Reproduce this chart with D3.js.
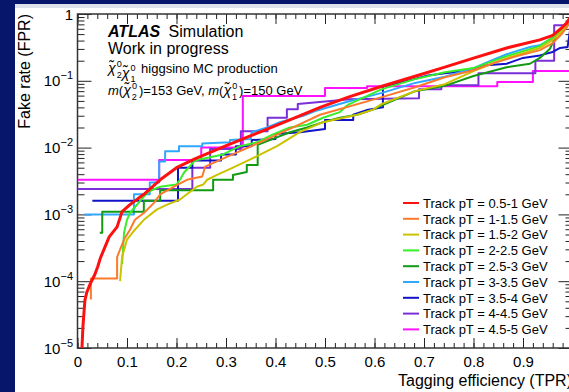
<!DOCTYPE html>
<html>
<head>
<meta charset="utf-8">
<script src="https://cdn.jsdelivr.net/npm/d3@7"></script>
<style>
body { margin: 0; background: #fff; }
svg { display: block; font-family: "Liberation Sans", Arial, Helvetica, sans-serif; }
</style>
</head>
<body>
<div id="chart"></div>
<script>

// ROC curves, [tagging efficiency (TPR), fake rate (FPR)]
var roc_05_1 = [[0.009,1e-5],[0.011,2.1e-5],[0.015,5.2e-5],[0.019,6.9e-5],[0.025,8.9e-5],[0.035,1.26e-4],[0.041,1.66e-4],[0.046,2.2e-4],[0.064,4.6e-4],[0.08,6.5e-4],[0.09,1.1e-3],[0.106,1.4e-3],[0.134,2.0e-3],[0.167,3.3e-3],[0.2,5.0e-3],[0.237,6.8e-3],[0.304,1.1e-2],[0.372,1.75e-2],[0.44,2.8e-2],[0.49,4.0e-2],[0.547,5.7e-2],[0.615,8.3e-2],[0.682,0.117],[0.742,0.16],[0.8,0.218],[0.867,0.31],[0.934,0.41],[0.96,0.48],[0.978,0.62],[0.988,0.73],[1,1]];
var roc_1_15 = [[0.027,5.3e-5],[0.027,1.1e-4],[0.08,1.1e-4],[0.08,2.3e-4],[0.094,4.2e-4],[0.106,5.9e-4],[0.116,8.3e-4],[0.134,1.05e-3],[0.155,1.5e-3],[0.167,2.0e-3],[0.195,2.6e-3],[0.221,3.3e-3],[0.252,3.7e-3],[0.258,5.2e-3],[0.304,7.4e-3],[0.373,1.24e-2],[0.44,2.08e-2],[0.49,3.1e-2],[0.615,5.7e-2],[0.682,8e-2],[0.742,0.113],[0.8,0.144],[0.84,0.184],[0.888,0.234],[0.934,0.288],[0.96,0.367],[0.98,0.52],[0.99,0.66],[1,1]];
var roc_15_2 = [[0.086,1.0e-4],[0.09,2.3e-4],[0.1,4.2e-4],[0.116,5.9e-4],[0.134,8.3e-4],[0.16,1.18e-3],[0.181,1.4e-3],[0.207,1.67e-3],[0.221,2.0e-3],[0.241,2.6e-3],[0.254,2.8e-3],[0.262,3.3e-3],[0.282,3.9e-3],[0.314,5.0e-3],[0.348,6.6e-3],[0.403,1.05e-2],[0.449,1.7e-2],[0.496,2.4e-2],[0.565,3.1e-2],[0.597,3.7e-2],[0.615,4.5e-2],[0.682,7e-2],[0.742,8.9e-2],[0.8,0.14],[0.867,0.218],[0.934,0.31],[0.96,0.41],[0.98,0.56],[0.99,0.68],[1,1]];
var roc_2_25 = [[0.09,1.8e-4],[0.094,5.3e-4],[0.1,8.3e-4],[0.106,1.05e-3],[0.134,1.85e-3],[0.144,2.2e-3],[0.167,2.6e-3],[0.2,2.8e-3],[0.207,3.3e-3],[0.215,4.2e-3],[0.237,6.4e-3],[0.294,7.9e-3],[0.328,1.05e-2],[0.362,1.2e-2],[0.395,1.58e-2],[0.429,2.0e-2],[0.464,2.2e-2],[0.496,2.8e-2],[0.53,3.4e-2],[0.547,4.4e-2],[0.615,7.5e-2],[0.682,0.106],[0.742,0.134],[0.8,0.155],[0.867,0.234],[0.934,0.33],[0.96,0.45],[0.98,0.575],[0.99,0.68],[1,1]];
var roc_25_3 = [[0.045,5.3e-4],[0.05,5.3e-4],[0.05,1.1e-3],[0.134,1.1e-3],[0.134,1.6e-3],[0.167,1.6e-3],[0.167,2.3e-3],[0.274,2.3e-3],[0.274,3.3e-3],[0.314,3.3e-3],[0.314,3.9e-3],[0.342,4.3e-3],[0.342,5.5e-3],[0.364,5.5e-3],[0.364,1.1e-2],[0.4,1.4e-2],[0.429,1.7e-2],[0.464,2.0e-2],[0.496,2.4e-2],[0.53,2.8e-2],[0.565,3.1e-2],[0.597,3.7e-2],[0.615,4.3e-2],[0.682,7.0e-2],[0.742,8.4e-2],[0.8,0.118],[0.867,0.16],[0.914,0.18],[0.934,0.22],[0.954,0.3],[0.969,0.5],[0.99,0.68],[1,1]];
var roc_3_35 = [[0.014,1e-3],[0.114,1e-3],[0.114,2.0e-3],[0.146,2.0e-3],[0.146,3.0e-3],[0.165,3.0e-3],[0.165,6.2e-3],[0.177,6.2e-3],[0.177,8.8e-3],[0.205,8.8e-3],[0.205,1.05e-2],[0.252,1.05e-2],[0.252,1.15e-2],[0.308,1.2e-2],[0.308,1.3e-2],[0.35,1.35e-2],[0.352,1.7e-2],[0.383,2.0e-2],[0.409,2.4e-2],[0.456,3.0e-2],[0.484,3.6e-2],[0.547,4.9e-2],[0.615,6.6e-2],[0.682,9.3e-2],[0.742,0.115],[0.8,0.155],[0.833,0.196],[0.867,0.25],[0.914,0.32],[0.934,0.34],[0.96,0.44],[0.98,0.62],[1,1]];
var roc_35_4 = [[0.03,1.6e-3],[0.203,1.6e-3],[0.203,5.0e-3],[0.232,5.0e-3],[0.232,6.4e-3],[0.29,6.4e-3],[0.29,7.9e-3],[0.32,7.9e-3],[0.32,1.05e-2],[0.352,1.05e-2],[0.352,1.3e-2],[0.4,1.35e-2],[0.4,1.6e-2],[0.45,1.7e-2],[0.5,1.9e-2],[0.5,2.6e-2],[0.557,2.6e-2],[0.557,3.1e-2],[0.587,3.7e-2],[0.617,4.0e-2],[0.617,8.3e-2],[0.648,9.3e-2],[0.678,0.105],[0.708,0.12],[0.742,0.13],[0.8,0.144],[0.82,0.17],[0.867,0.18],[0.9,0.22],[0.934,0.24],[0.96,0.27],[0.975,0.31],[0.99,0.32],[1,1]];
var roc_4_45 = [[0,2.4e-3],[0.232,2.4e-3],[0.232,5.0e-3],[0.268,5.0e-3],[0.268,9.5e-3],[0.33,9.5e-3],[0.33,1.75e-2],[0.384,1.75e-2],[0.384,2.8e-2],[0.423,2.8e-2],[0.423,3.75e-2],[0.445,3.75e-2],[0.445,4.5e-2],[0.55,5.3e-2],[0.69,5.5e-2],[0.69,7.5e-2],[0.735,7.5e-2],[0.735,8.6e-2],[0.81,8.6e-2],[0.81,0.13],[0.925,0.13],[0.925,0.2],[0.963,0.2],[0.963,0.68],[0.99,0.68],[1,1]];
var roc_45_5 = [[0,3.3e-3],[0.165,3.3e-3],[0.165,6.5e-3],[0.25,6.5e-3],[0.25,1.0e-2],[0.334,1.0e-2],[0.334,5.9e-2],[0.5,5.9e-2],[0.5,7.8e-2],[0.585,7.8e-2],[0.585,8.3e-2],[0.848,8.3e-2],[0.848,9.6e-2],[0.92,9.6e-2],[0.92,0.14],[1,0.14],[1,1]];

var seriesLabels = ["Track pT = 0.5-1 GeV", "Track pT = 1-1.5 GeV", "Track pT = 1.5-2 GeV",
    "Track pT = 2-2.5 GeV", "Track pT = 2.5-3 GeV", "Track pT = 3-3.5 GeV",
    "Track pT = 3.5-4 GeV", "Track pT = 4-4.5 GeV", "Track pT = 4.5-5 GeV"];
var seriesData = [roc_05_1, roc_1_15, roc_15_2, roc_2_25, roc_25_3, roc_3_35, roc_35_4, roc_4_45, roc_45_5];
var seriesColors = ["#ff1010", "#fb7a2c", "#cbc200", "#38ee28", "#139a13", "#30a8ff", "#1212c8", "#7a2fd8", "#ff10ff"];

var xTicks = [0, 0.1, 0.2, 0.3, 0.4, 0.5, 0.6, 0.7, 0.8, 0.9, 1];
var xTickLabels = ["0", "0.1", "0.2", "0.3", "0.4", "0.5", "0.6", "0.7", "0.8", "0.9", ""];
var yExponents = [0, -1, -2, -3, -4, -5];

var width = 569, height = 392;

var svg = d3.select("#chart").append("svg")
    .attr("width", width)
    .attr("height", height);

// slide background strips
svg.append("rect").attr("x", 0).attr("y", 0).attr("width", width).attr("height", 4).attr("fill", "#07166a");
svg.append("rect").attr("x", 15).attr("y", 4).attr("width", width - 15).attr("height", 4).attr("fill", "#dde1ea");
svg.append("rect").attr("x", 0).attr("y", 0).attr("width", 15).attr("height", height).attr("fill", "#07166a");

var x = d3.scaleLinear().domain([0, 1]).range([77.5, 572.5]);
var y = d3.scaleLog().domain([1e-5, 1]).range([348, 14]);

var xMinor = d3.range(0, 1.001, 0.02);
var yMinor = [];
yExponents.slice(1).forEach(function(e) {
    for (var m = 2; m <= 9; m++) yMinor.push(m * Math.pow(10, e));
});

function clean(g) {
    g.select(".domain").remove();
    g.attr("color", "#222").attr("font-family", null).attr("font-size", null);
}

// ticks, all pointing inward
svg.append("g").attr("transform", "translate(0,348)")
    .call(d3.axisBottom(x).tickValues(xTicks).tickSize(-10).tickPadding(8)
        .tickFormat(function(d, i) { return xTickLabels[i]; }))
    .call(clean)
    .selectAll("text").attr("font-size", 15).attr("fill", "#000");
svg.append("g").attr("transform", "translate(0,348)")
    .call(d3.axisBottom(x).tickValues(xMinor).tickSize(-5).tickFormat(""))
    .call(clean);
svg.append("g").attr("transform", "translate(0,14)")
    .call(d3.axisTop(x).tickValues(xTicks).tickSize(-10).tickFormat(""))
    .call(clean);
svg.append("g").attr("transform", "translate(0,14)")
    .call(d3.axisTop(x).tickValues(xMinor).tickSize(-5).tickFormat(""))
    .call(clean);

var yMajor = yExponents.map(function(e) { return Math.pow(10, e); });
svg.append("g").attr("transform", "translate(77.5,0)")
    .call(d3.axisLeft(y).tickValues(yMajor).tickSize(-14).tickFormat(""))
    .call(clean);
svg.append("g").attr("transform", "translate(77.5,0)")
    .call(d3.axisLeft(y).tickValues(yMinor).tickSize(-7).tickFormat(""))
    .call(clean);
svg.append("g").attr("transform", "translate(572.5,0)")
    .call(d3.axisRight(y).tickValues(yMajor).tickSize(-14).tickFormat(""))
    .call(clean);
svg.append("g").attr("transform", "translate(572.5,0)")
    .call(d3.axisRight(y).tickValues(yMinor).tickSize(-7).tickFormat(""))
    .call(clean);

// y tick labels 1, 10^-1 ...
yExponents.forEach(function(e) {
    var t = svg.append("text")
        .attr("x", 73)
        .attr("y", y(Math.pow(10, e)) + 5.5)
        .attr("text-anchor", "end")
        .attr("font-size", 15);
    if (e === 0) {
        t.text("1");
    } else {
        t.append("tspan").text("10");
        t.append("tspan").attr("font-size", 11).attr("dy", -7).text("\u2212" + (-e));
    }
});

// frame
svg.append("rect")
    .attr("x", 77.5).attr("y", 14)
    .attr("width", 495).attr("height", 334)
    .attr("fill", "none").attr("stroke", "#333").attr("stroke-width", 1.5);

// curves
svg.append("clipPath").attr("id", "plotclip")
    .append("rect").attr("x", 77.5).attr("y", 14).attr("width", 495).attr("height", 334);

var line = d3.line()
    .x(function(d) { return x(d[0]); })
    .y(function(d) { return y(d[1]); });

var curves = svg.append("g").attr("clip-path", "url(#plotclip)");
for (var i = seriesData.length - 1; i >= 0; i--) {
    curves.append("path")
        .attr("d", line(seriesData[i]))
        .attr("fill", "none")
        .attr("stroke", seriesColors[i])
        .attr("stroke-width", i === 0 ? 3 : 2)
        .attr("stroke-linejoin", "round");
}

// axis titles
svg.append("text")
    .attr("transform", "translate(30,14) rotate(-90)")
    .attr("text-anchor", "end")
    .attr("font-size", 16)
    .text("Fake rate (FPR)");
svg.append("text")
    .attr("x", 572).attr("y", 386)
    .attr("text-anchor", "end")
    .attr("font-size", 16)
    .text("Tagging efficiency (TPR)");

// labels in the top left
var t1 = svg.append("text").attr("x", 108).attr("y", 37).attr("font-size", 16);
t1.append("tspan").attr("font-weight", "bold").attr("font-style", "italic").text("ATLAS");
t1.append("tspan").attr("dx", 4).text(" Simulation");

svg.append("text").attr("x", 108).attr("y", 54).attr("font-size", 16).text("Work in progress");

// chi-tilde with stacked superscript 0 and subscript
function addChi(t, sub, size) {
    t.append("tspan").attr("font-style", "italic").attr("font-size", size * 1.1).text("\u03c7\u0303");
    t.append("tspan").attr("font-size", size * 0.7).attr("dx", 1).attr("dy", -size * 0.5).text("0");
    t.append("tspan").attr("font-size", size * 0.7).attr("dx", -size * 0.4).attr("dy", size * 0.85).text(sub);
}

var t3 = svg.append("text").attr("x", 108).attr("y", 73).attr("font-size", 13);
addChi(t3, "2", 13);
t3.append("tspan").attr("dx", 2).attr("dy", -13 * 0.35).text("");
addChi(t3, "1", 13);
t3.append("tspan").attr("dx", 2).attr("dy", -13 * 0.35 * 2).text(" higgsino MC production");

var t4 = svg.append("text").attr("x", 108).attr("y", 95).attr("font-size", 13);
t4.append("tspan").attr("font-style", "italic").text("m");
t4.append("tspan").text("(");
addChi(t4, "2", 13);
t4.append("tspan").attr("dx", 2).attr("dy", -13 * 0.35).text(")=153 GeV, ");
t4.append("tspan").attr("font-style", "italic").text("m");
t4.append("tspan").text("(");
addChi(t4, "1", 13);
t4.append("tspan").attr("dx", 2).attr("dy", -13 * 0.35).text(")=150 GeV");

// legend
var legend = svg.append("g");
seriesLabels.forEach(function(lab, i) {
    var ry = 203 + i * 15.8;
    legend.append("line")
        .attr("x1", 403).attr("x2", 419)
        .attr("y1", ry).attr("y2", ry)
        .attr("stroke", seriesColors[i]).attr("stroke-width", 2);
    legend.append("text")
        .attr("x", 423).attr("y", ry + 4.8)
        .attr("font-size", 13)
        .text(lab);
});

</script>
</body>
</html>
